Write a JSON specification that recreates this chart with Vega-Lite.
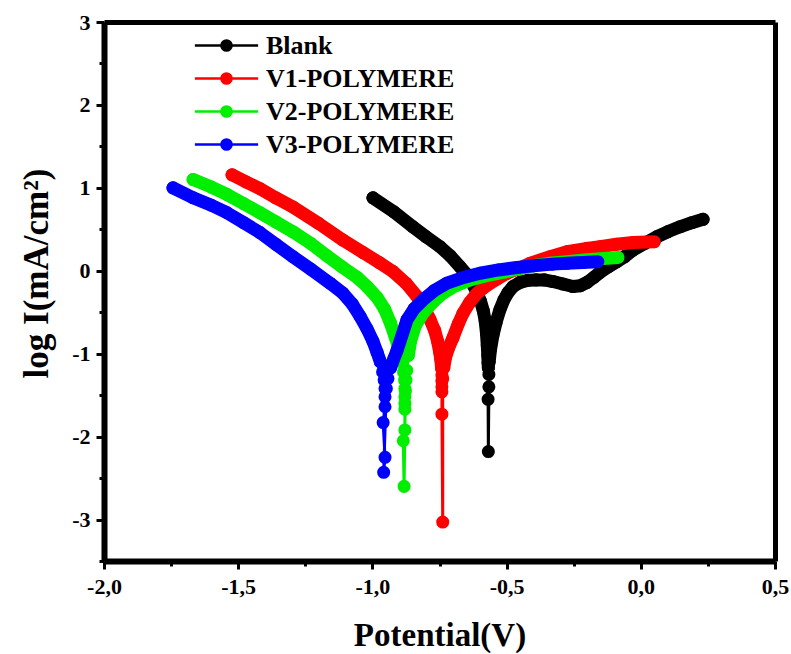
{
  "$schema": "https://vega.github.io/schema/vega-lite/v6.json",
  "width": 671,
  "height": 539,
  "autosize": "none",
  "padding": {"left": 104, "top": 22, "right": 16, "bottom": 93},
  "background": "white",
  "config": {
    "view": {"stroke": null},
    "font": "Liberation Serif",
    "axis": {
      "grid": false,
      "domain": true,
      "domainColor": "#000000",
      "domainWidth": 6,
      "ticks": true,
      "tickColor": "#000000",
      "tickWidth": 3,
      "tickSize": 7,
      "zindex": 1,
      "labelFont": "Liberation Serif", "labelFontWeight": "bold", "labelFontSize": 22, "labelColor": "#000000",
      "labelFlush": false, "labelOverlap": false,
      "titleFont": "Liberation Serif", "titleFontWeight": "bold", "titleFontSize": 33, "titleColor": "#000000"
    }
  },
  "resolve": {"axis": {"x": "independent", "y": "independent"}},
  "data": {"values": [
    {"series":"Blank","branch":"c","i":1,"E":-0.998,"logI":0.88},
    {"series":"Blank","branch":"c","i":2,"E":-0.92,"logI":0.71},
    {"series":"Blank","branch":"c","i":3,"E":-0.849,"logI":0.53},
    {"series":"Blank","branch":"c","i":4,"E":-0.80,"logI":0.41},
    {"series":"Blank","branch":"c","i":5,"E":-0.748,"logI":0.29},
    {"series":"Blank","branch":"c","i":6,"E":-0.71,"logI":0.18},
    {"series":"Blank","branch":"c","i":7,"E":-0.674,"logI":0.05},
    {"series":"Blank","branch":"c","i":8,"E":-0.650,"logI":-0.04},
    {"series":"Blank","branch":"c","i":9,"E":-0.630,"logI":-0.14},
    {"series":"Blank","branch":"c","i":10,"E":-0.612,"logI":-0.25},
    {"series":"Blank","branch":"c","i":11,"E":-0.597,"logI":-0.37},
    {"series":"Blank","branch":"c","i":12,"E":-0.587,"logI":-0.48},
    {"series":"Blank","branch":"c","i":13,"E":-0.580,"logI":-0.60},
    {"series":"Blank","branch":"c","i":14,"E":-0.575,"logI":-0.75},
    {"series":"Blank","branch":"c","i":15,"E":-0.572,"logI":-0.90},
    {"series":"Blank","branch":"c","i":16,"E":-0.570,"logI":-1.02},
    {"series":"Blank","branch":"c","i":17,"E":-0.569,"logI":-1.11},
    {"series":"Blank","branch":"c","i":18,"E":-0.568,"logI":-1.17},
    {"series":"Blank","branch":"c","i":19,"E":-0.566,"logI":-1.25},
    {"series":"Blank","branch":"c","i":20,"E":-0.566,"logI":-1.40},
    {"series":"Blank","branch":"c","i":21,"E":-0.569,"logI":-1.55},
    {"series":"Blank","branch":"c","i":22,"E":-0.568,"logI":-2.18},
    {"series":"Blank","branch":"a","i":23,"E":-0.565,"logI":-1.10},
    {"series":"Blank","branch":"a","i":24,"E":-0.560,"logI":-0.95},
    {"series":"Blank","branch":"a","i":25,"E":-0.551,"logI":-0.78},
    {"series":"Blank","branch":"a","i":26,"E":-0.539,"logI":-0.62},
    {"series":"Blank","branch":"a","i":27,"E":-0.525,"logI":-0.47},
    {"series":"Blank","branch":"a","i":28,"E":-0.510,"logI":-0.35},
    {"series":"Blank","branch":"a","i":29,"E":-0.494,"logI":-0.26},
    {"series":"Blank","branch":"a","i":30,"E":-0.476,"logI":-0.19},
    {"series":"Blank","branch":"a","i":31,"E":-0.45,"logI":-0.14},
    {"series":"Blank","branch":"a","i":32,"E":-0.42,"logI":-0.115},
    {"series":"Blank","branch":"a","i":33,"E":-0.39,"logI":-0.11},
    {"series":"Blank","branch":"a","i":34,"E":-0.36,"logI":-0.11},
    {"series":"Blank","branch":"a","i":35,"E":-0.327,"logI":-0.13},
    {"series":"Blank","branch":"a","i":36,"E":-0.29,"logI":-0.16},
    {"series":"Blank","branch":"a","i":37,"E":-0.253,"logI":-0.19},
    {"series":"Blank","branch":"a","i":38,"E":-0.225,"logI":-0.18},
    {"series":"Blank","branch":"a","i":39,"E":-0.200,"logI":-0.14},
    {"series":"Blank","branch":"a","i":40,"E":-0.175,"logI":-0.08},
    {"series":"Blank","branch":"a","i":41,"E":-0.152,"logI":-0.02},
    {"series":"Blank","branch":"a","i":42,"E":-0.12,"logI":0.05},
    {"series":"Blank","branch":"a","i":43,"E":-0.089,"logI":0.11},
    {"series":"Blank","branch":"a","i":44,"E":-0.06,"logI":0.17},
    {"series":"Blank","branch":"a","i":45,"E":-0.029,"logI":0.25},
    {"series":"Blank","branch":"a","i":46,"E":0.015,"logI":0.33},
    {"series":"Blank","branch":"a","i":47,"E":0.060,"logI":0.41},
    {"series":"Blank","branch":"a","i":48,"E":0.10,"logI":0.47},
    {"series":"Blank","branch":"a","i":49,"E":0.146,"logI":0.53},
    {"series":"Blank","branch":"a","i":50,"E":0.19,"logI":0.58},
    {"series":"Blank","branch":"a","i":51,"E":0.232,"logI":0.62},

    {"series":"V1-POLYMERE","branch":"c","i":1,"E":-1.523,"logI":1.157},
    {"series":"V1-POLYMERE","branch":"c","i":2,"E":-1.47,"logI":1.07},
    {"series":"V1-POLYMERE","branch":"c","i":3,"E":-1.419,"logI":0.99},
    {"series":"V1-POLYMERE","branch":"c","i":4,"E":-1.36,"logI":0.88},
    {"series":"V1-POLYMERE","branch":"c","i":5,"E":-1.296,"logI":0.77},
    {"series":"V1-POLYMERE","branch":"c","i":6,"E":-1.20,"logI":0.57},
    {"series":"V1-POLYMERE","branch":"c","i":7,"E":-1.110,"logI":0.37},
    {"series":"V1-POLYMERE","branch":"c","i":8,"E":-1.035,"logI":0.22},
    {"series":"V1-POLYMERE","branch":"c","i":9,"E":-0.975,"logI":0.10},
    {"series":"V1-POLYMERE","branch":"c","i":10,"E":-0.923,"logI":-0.01},
    {"series":"V1-POLYMERE","branch":"c","i":11,"E":-0.875,"logI":-0.15},
    {"series":"V1-POLYMERE","branch":"c","i":12,"E":-0.834,"logI":-0.31},
    {"series":"V1-POLYMERE","branch":"c","i":13,"E":-0.805,"logI":-0.46},
    {"series":"V1-POLYMERE","branch":"c","i":14,"E":-0.785,"logI":-0.59},
    {"series":"V1-POLYMERE","branch":"c","i":15,"E":-0.768,"logI":-0.72},
    {"series":"V1-POLYMERE","branch":"c","i":16,"E":-0.757,"logI":-0.85},
    {"series":"V1-POLYMERE","branch":"c","i":17,"E":-0.750,"logI":-0.97},
    {"series":"V1-POLYMERE","branch":"c","i":18,"E":-0.745,"logI":-1.07},
    {"series":"V1-POLYMERE","branch":"c","i":19,"E":-0.742,"logI":-1.18},
    {"series":"V1-POLYMERE","branch":"c","i":20,"E":-0.741,"logI":-1.26},
    {"series":"V1-POLYMERE","branch":"c","i":21,"E":-0.741,"logI":-1.33},
    {"series":"V1-POLYMERE","branch":"c","i":22,"E":-0.741,"logI":-1.40},
    {"series":"V1-POLYMERE","branch":"c","i":23,"E":-0.741,"logI":-1.46},
    {"series":"V1-POLYMERE","branch":"c","i":24,"E":-0.741,"logI":-1.73},
    {"series":"V1-POLYMERE","branch":"c","i":25,"E":-0.738,"logI":-3.03},
    {"series":"V1-POLYMERE","branch":"a","i":26,"E":-0.738,"logI":-1.30},
    {"series":"V1-POLYMERE","branch":"a","i":27,"E":-0.734,"logI":-1.17},
    {"series":"V1-POLYMERE","branch":"a","i":28,"E":-0.728,"logI":-1.05},
    {"series":"V1-POLYMERE","branch":"a","i":29,"E":-0.715,"logI":-0.92},
    {"series":"V1-POLYMERE","branch":"a","i":30,"E":-0.700,"logI":-0.81},
    {"series":"V1-POLYMERE","branch":"a","i":31,"E":-0.680,"logI":-0.64},
    {"series":"V1-POLYMERE","branch":"a","i":32,"E":-0.662,"logI":-0.51},
    {"series":"V1-POLYMERE","branch":"a","i":33,"E":-0.637,"logI":-0.38},
    {"series":"V1-POLYMERE","branch":"a","i":34,"E":-0.610,"logI":-0.27},
    {"series":"V1-POLYMERE","branch":"a","i":35,"E":-0.575,"logI":-0.18},
    {"series":"V1-POLYMERE","branch":"a","i":36,"E":-0.536,"logI":-0.10},
    {"series":"V1-POLYMERE","branch":"a","i":37,"E":-0.498,"logI":-0.03},
    {"series":"V1-POLYMERE","branch":"a","i":38,"E":-0.461,"logI":0.02},
    {"series":"V1-POLYMERE","branch":"a","i":39,"E":-0.413,"logI":0.09},
    {"series":"V1-POLYMERE","branch":"a","i":40,"E":-0.338,"logI":0.17},
    {"series":"V1-POLYMERE","branch":"a","i":41,"E":-0.275,"logI":0.23},
    {"series":"V1-POLYMERE","branch":"a","i":42,"E":-0.20,"logI":0.27},
    {"series":"V1-POLYMERE","branch":"a","i":43,"E":-0.152,"logI":0.29},
    {"series":"V1-POLYMERE","branch":"a","i":44,"E":-0.09,"logI":0.32},
    {"series":"V1-POLYMERE","branch":"a","i":45,"E":-0.029,"logI":0.34},
    {"series":"V1-POLYMERE","branch":"a","i":46,"E":0.05,"logI":0.35},

    {"series":"V2-POLYMERE","branch":"c","i":1,"E":-1.668,"logI":1.10},
    {"series":"V2-POLYMERE","branch":"c","i":2,"E":-1.60,"logI":1.01},
    {"series":"V2-POLYMERE","branch":"c","i":3,"E":-1.542,"logI":0.92},
    {"series":"V2-POLYMERE","branch":"c","i":4,"E":-1.48,"logI":0.81},
    {"series":"V2-POLYMERE","branch":"c","i":5,"E":-1.419,"logI":0.70},
    {"series":"V2-POLYMERE","branch":"c","i":6,"E":-1.36,"logI":0.59},
    {"series":"V2-POLYMERE","branch":"c","i":7,"E":-1.296,"logI":0.47},
    {"series":"V2-POLYMERE","branch":"c","i":8,"E":-1.23,"logI":0.33},
    {"series":"V2-POLYMERE","branch":"c","i":9,"E":-1.169,"logI":0.18},
    {"series":"V2-POLYMERE","branch":"c","i":10,"E":-1.11,"logI":0.04},
    {"series":"V2-POLYMERE","branch":"c","i":11,"E":-1.057,"logI":-0.08},
    {"series":"V2-POLYMERE","branch":"c","i":12,"E":-1.02,"logI":-0.19},
    {"series":"V2-POLYMERE","branch":"c","i":13,"E":-0.983,"logI":-0.32},
    {"series":"V2-POLYMERE","branch":"c","i":14,"E":-0.955,"logI":-0.46},
    {"series":"V2-POLYMERE","branch":"c","i":15,"E":-0.934,"logI":-0.62},
    {"series":"V2-POLYMERE","branch":"c","i":16,"E":-0.915,"logI":-0.80},
    {"series":"V2-POLYMERE","branch":"c","i":17,"E":-0.900,"logI":-0.95},
    {"series":"V2-POLYMERE","branch":"c","i":18,"E":-0.890,"logI":-1.10},
    {"series":"V2-POLYMERE","branch":"c","i":19,"E":-0.884,"logI":-1.22},
    {"series":"V2-POLYMERE","branch":"c","i":20,"E":-0.880,"logI":-1.32},
    {"series":"V2-POLYMERE","branch":"c","i":21,"E":-0.879,"logI":-1.42},
    {"series":"V2-POLYMERE","branch":"c","i":22,"E":-0.879,"logI":-1.52},
    {"series":"V2-POLYMERE","branch":"c","i":23,"E":-0.879,"logI":-1.60},
    {"series":"V2-POLYMERE","branch":"c","i":24,"E":-0.879,"logI":-1.67},
    {"series":"V2-POLYMERE","branch":"c","i":25,"E":-0.879,"logI":-1.92},
    {"series":"V2-POLYMERE","branch":"c","i":26,"E":-0.885,"logI":-2.05},
    {"series":"V2-POLYMERE","branch":"c","i":27,"E":-0.882,"logI":-2.60},
    {"series":"V2-POLYMERE","branch":"a","i":28,"E":-0.877,"logI":-1.45},
    {"series":"V2-POLYMERE","branch":"a","i":29,"E":-0.875,"logI":-1.32},
    {"series":"V2-POLYMERE","branch":"a","i":30,"E":-0.872,"logI":-1.20},
    {"series":"V2-POLYMERE","branch":"a","i":31,"E":-0.866,"logI":-1.02},
    {"series":"V2-POLYMERE","branch":"a","i":32,"E":-0.858,"logI":-0.85},
    {"series":"V2-POLYMERE","branch":"a","i":33,"E":-0.840,"logI":-0.66},
    {"series":"V2-POLYMERE","branch":"a","i":34,"E":-0.811,"logI":-0.51},
    {"series":"V2-POLYMERE","branch":"a","i":35,"E":-0.775,"logI":-0.38},
    {"series":"V2-POLYMERE","branch":"a","i":36,"E":-0.737,"logI":-0.27},
    {"series":"V2-POLYMERE","branch":"a","i":37,"E":-0.69,"logI":-0.18},
    {"series":"V2-POLYMERE","branch":"a","i":38,"E":-0.636,"logI":-0.11},
    {"series":"V2-POLYMERE","branch":"a","i":39,"E":-0.575,"logI":-0.06},
    {"series":"V2-POLYMERE","branch":"a","i":40,"E":-0.513,"logI":-0.02},
    {"series":"V2-POLYMERE","branch":"a","i":41,"E":-0.45,"logI":0.03},
    {"series":"V2-POLYMERE","branch":"a","i":42,"E":-0.402,"logI":0.06},
    {"series":"V2-POLYMERE","branch":"a","i":43,"E":-0.34,"logI":0.09},
    {"series":"V2-POLYMERE","branch":"a","i":44,"E":-0.275,"logI":0.11},
    {"series":"V2-POLYMERE","branch":"a","i":45,"E":-0.21,"logI":0.13},
    {"series":"V2-POLYMERE","branch":"a","i":46,"E":-0.152,"logI":0.145},
    {"series":"V2-POLYMERE","branch":"a","i":47,"E":-0.085,"logI":0.16},

    {"series":"V3-POLYMERE","branch":"c","i":1,"E":-1.743,"logI":1.00},
    {"series":"V3-POLYMERE","branch":"c","i":2,"E":-1.668,"logI":0.88},
    {"series":"V3-POLYMERE","branch":"c","i":3,"E":-1.60,"logI":0.79},
    {"series":"V3-POLYMERE","branch":"c","i":4,"E":-1.542,"logI":0.70},
    {"series":"V3-POLYMERE","branch":"c","i":5,"E":-1.48,"logI":0.58},
    {"series":"V3-POLYMERE","branch":"c","i":6,"E":-1.419,"logI":0.46},
    {"series":"V3-POLYMERE","branch":"c","i":7,"E":-1.36,"logI":0.32},
    {"series":"V3-POLYMERE","branch":"c","i":8,"E":-1.296,"logI":0.17},
    {"series":"V3-POLYMERE","branch":"c","i":9,"E":-1.23,"logI":0.02},
    {"series":"V3-POLYMERE","branch":"c","i":10,"E":-1.158,"logI":-0.15},
    {"series":"V3-POLYMERE","branch":"c","i":11,"E":-1.110,"logI":-0.27},
    {"series":"V3-POLYMERE","branch":"c","i":12,"E":-1.075,"logI":-0.40},
    {"series":"V3-POLYMERE","branch":"c","i":13,"E":-1.046,"logI":-0.55},
    {"series":"V3-POLYMERE","branch":"c","i":14,"E":-1.020,"logI":-0.70},
    {"series":"V3-POLYMERE","branch":"c","i":15,"E":-0.998,"logI":-0.85},
    {"series":"V3-POLYMERE","branch":"c","i":16,"E":-0.983,"logI":-0.98},
    {"series":"V3-POLYMERE","branch":"c","i":17,"E":-0.970,"logI":-1.10},
    {"series":"V3-POLYMERE","branch":"c","i":18,"E":-0.962,"logI":-1.22},
    {"series":"V3-POLYMERE","branch":"c","i":19,"E":-0.956,"logI":-1.32},
    {"series":"V3-POLYMERE","branch":"c","i":20,"E":-0.953,"logI":-1.42},
    {"series":"V3-POLYMERE","branch":"c","i":21,"E":-0.953,"logI":-1.52},
    {"series":"V3-POLYMERE","branch":"c","i":22,"E":-0.953,"logI":-1.64},
    {"series":"V3-POLYMERE","branch":"c","i":23,"E":-0.960,"logI":-1.83},
    {"series":"V3-POLYMERE","branch":"c","i":24,"E":-0.953,"logI":-2.25},
    {"series":"V3-POLYMERE","branch":"c","i":25,"E":-0.958,"logI":-2.43},
    {"series":"V3-POLYMERE","branch":"a","i":26,"E":-0.948,"logI":-1.42},
    {"series":"V3-POLYMERE","branch":"a","i":27,"E":-0.942,"logI":-1.30},
    {"series":"V3-POLYMERE","branch":"a","i":28,"E":-0.932,"logI":-1.17},
    {"series":"V3-POLYMERE","branch":"a","i":29,"E":-0.920,"logI":-1.06},
    {"series":"V3-POLYMERE","branch":"a","i":30,"E":-0.908,"logI":-0.96},
    {"series":"V3-POLYMERE","branch":"a","i":31,"E":-0.890,"logI":-0.78},
    {"series":"V3-POLYMERE","branch":"a","i":32,"E":-0.871,"logI":-0.59},
    {"series":"V3-POLYMERE","branch":"a","i":33,"E":-0.845,"logI":-0.46},
    {"series":"V3-POLYMERE","branch":"a","i":34,"E":-0.811,"logI":-0.35},
    {"series":"V3-POLYMERE","branch":"a","i":35,"E":-0.77,"logI":-0.24},
    {"series":"V3-POLYMERE","branch":"a","i":36,"E":-0.722,"logI":-0.15},
    {"series":"V3-POLYMERE","branch":"a","i":37,"E":-0.66,"logI":-0.08},
    {"series":"V3-POLYMERE","branch":"a","i":38,"E":-0.599,"logI":-0.03},
    {"series":"V3-POLYMERE","branch":"a","i":39,"E":-0.53,"logI":0.01},
    {"series":"V3-POLYMERE","branch":"a","i":40,"E":-0.461,"logI":0.04},
    {"series":"V3-POLYMERE","branch":"a","i":41,"E":-0.40,"logI":0.06},
    {"series":"V3-POLYMERE","branch":"a","i":42,"E":-0.33,"logI":0.08},
    {"series":"V3-POLYMERE","branch":"a","i":43,"E":-0.275,"logI":0.09},
    {"series":"V3-POLYMERE","branch":"a","i":44,"E":-0.215,"logI":0.10},
    {"series":"V3-POLYMERE","branch":"a","i":45,"E":-0.16,"logI":0.11}
  ]},
  "layer": [
    {
      "mark": {"type": "line", "strokeWidth": 3, "strokeCap": "round"},
      "encoding": {
        "x": {
          "field": "E", "type": "quantitative",
          "scale": {"domain": [-2, 0.5], "nice": false, "zero": false},
          "axis": {
            "title": "Potential(V)",
            "values": [-2, -1.75, -1.5, -1.25, -1, -0.75, -0.5, -0.25, 0, 0.25, 0.5],
            "labelExpr": "(datum.value*4) % 2 == 0 ? replace(replace(format(datum.value, '.1f'), '.', ','), '\u2212', '-') : ''",
            "tickSize": {"condition": {"test": "(datum.value*4) % 2 == 0", "value": 8}, "value": 5},
            "labelPadding": 7,
            "titleY": 84, "titleBaseline": "alphabetic"
          }
        },
        "y": {
          "field": "logI", "type": "quantitative",
          "scale": {"domain": [-3.5, 3], "nice": false, "zero": false},
          "axis": {
            "title": "log I(mA/cm²)",
            "values": [-3.5, -3, -2.5, -2, -1.5, -1, -0.5, 0, 0.5, 1, 1.5, 2, 2.5, 3],
            "labelExpr": "datum.value % 1 == 0 ? replace(format(datum.value, 'd'), '\u2212', '-') : ''",
            "tickSize": {"condition": {"test": "datum.value % 1 == 0", "value": 8}, "value": 5},
            "labelPadding": 6,
            "titleFontSize": 35,
            "titleX": -57, "titleY": 251, "titleBaseline": "alphabetic"
          }
        },
        "color": {
          "field": "series", "type": "nominal",
          "scale": {"domain": ["Blank", "V1-POLYMERE", "V2-POLYMERE", "V3-POLYMERE"], "range": ["#000000", "#ff0000", "#00ee00", "#0000ff"]},
          "legend": {
            "title": null,
            "orient": "none", "legendX": 105, "legendY": 6,
            "symbolType": "M-2,0H2M0.32,0A0.32,0.32,0,1,1,-0.32,0A0.32,0.32,0,1,1,0.32,0Z",
            "symbolSize": 1000,
            "symbolStrokeWidth": 2.5,
            "labelFont": "Liberation Serif", "labelFontWeight": "bold", "labelFontSize": 26, "labelColor": "#000000",
            "labelOffset": 22,
            "labelLimit": 0,
            "rowPadding": 2,
            "encode": {
              "symbols": {"update": {
                "stroke": {"scale": "color", "field": "value"},
                "fill": {"scale": "color", "field": "value"},
                "opacity": {"value": 1}
              }}
            }
          }
        },
        "order": {"field": "i", "type": "quantitative"}
      }
    },
    {
      "mark": {"type": "point", "shape": "circle", "filled": true, "size": 170, "opacity": 1},
      "encoding": {
        "x": {"field": "E", "type": "quantitative",
          "axis": {"orient": "top", "labels": false, "ticks": false, "title": null, "domainWidth": 5, "domainColor": "#000000"}},
        "y": {"field": "logI", "type": "quantitative",
          "axis": {"orient": "right", "labels": false, "ticks": false, "title": null, "domainWidth": 5, "domainColor": "#000000"}},
        "color": {"field": "series", "type": "nominal"}
      }
    },
    {
      "transform": [{"filter": "datum.logI > -1.2"}],
      "mark": {"type": "line", "strokeWidth": 13, "strokeCap": "round", "strokeJoin": "round"},
      "encoding": {
        "x": {"field": "E", "type": "quantitative", "axis": null},
        "y": {"field": "logI", "type": "quantitative", "axis": null},
        "color": {"field": "series", "type": "nominal"},
        "detail": {"field": "branch", "type": "nominal"},
        "order": {"field": "i", "type": "quantitative"}
      }
    }
  ]
}
